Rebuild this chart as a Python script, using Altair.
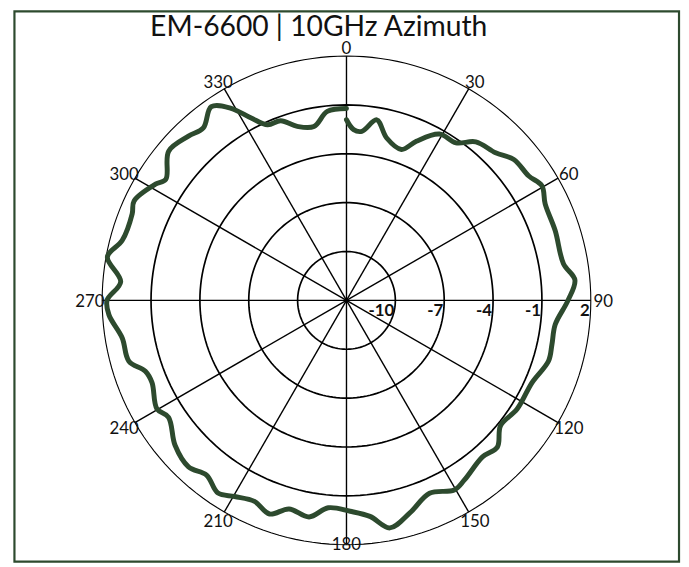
import altair as alt
import pandas as pd

# ---- data ----
angles = [0, 2.4, 5.2, 9.5, 13.9, 20.0, 23.7, 29.2, 34.8, 39.2, 45.3, 49.9, 55.7, 59.6,
          64.1, 71.5, 80.4, 84.9, 90, 96.6, 102.1, 106.7, 113.9, 122.5, 129.1, 134.2,
          139.0, 146.7, 150.4, 156.7, 163.4, 169.2, 173.8, 179.0, 185.0, 189.8, 195.4,
          199.8, 204.6, 209.7, 213.7, 218.7, 223.5, 229.8, 236.7, 240.2, 247.1, 250.6,
          254.4, 260.5, 266.5, 270, 274.7, 280.3, 285.0, 292.0, 295.1, 301.3, 303.8,
          310.0, 316.1, 320.3, 325.1, 329.0, 332.4, 335.8, 339.9, 344.2, 349.4, 354.2, 360]
values = [-1.91, -2.51, -2.58, -1.76, -2.73, -3.14, -2.33, -1.30, -1.22, -0.44, -0.12, 0.43,
          0.55, 0.91, 0.56, 0.51, 0.51, 1.08, 0.60, -0.10, -0.10, -0.05, -0.54, -0.58, -0.81,
          -0.08, -0.27, 0.19, 0.39, -0.11, 0.62, 1.22, 0.34, -0.05, -0.22, 0.49, 0.28, 0.94,
          0.57, 0.86, 1.22, 0.74, 1.09, 0.78, 0.07, 0.41, -0.04, 0.09, 0.87, 0.96, 1.61, 1.70,
          0.91, 1.92, 1.25, 1.19, 1.40, 0.73, 0.35, 1.25, 0.99, 0.76, 1.50, 0.76, -0.37,
          -1.18, -1.26, -1.90, -2.14, -1.34, -1.22]
ring_values = [-10, -7, -4, -1, 2]
spoke_angles = [0, 30, 60, 90, 120, 150, 180, 210, 240, 270, 300, 330]
title_text = "EM-6600 | 10GHz Azimuth"
R_MIN = -13
R_MAX = 2

# ---- layout ----
W, H = 679, 558
CX, CY = 341.5, 292.5          # polar centre inside the plot area (px)
K = 246.5 / (R_MAX - R_MIN)    # px per dB
GREEN = "#2D4A2E"
FONT = "Lato"

xs = alt.Scale(domain=[-CX / K, (W - CX) / K], nice=False, zero=False)
ys = alt.Scale(domain=[-(H - CY) / K, CY / K], nice=False, zero=False)


def X(field):
    return alt.X(field, type="quantitative", scale=xs, axis=None)


def Y(field):
    return alt.Y(field, type="quantitative", scale=ys, axis=None)


rad = "datum.angle * PI / 180"

# rings
ring_rows = [{"ring": rv, "angle": a} for rv in ring_values for a in range(0, 362, 2)]
rings = (
    alt.Chart(pd.DataFrame(ring_rows))
    .transform_calculate(r=f"datum.ring - ({R_MIN})")
    .transform_calculate(x=f"datum.r * sin({rad})", y=f"datum.r * cos({rad})")
    .mark_line(color="black")
    .encode(x=X("x"), y=Y("y"), detail="ring:N", order="angle:Q",
            strokeWidth=alt.condition(f"datum.ring == {R_MAX}", alt.value(1.1), alt.value(1.7)))
)

# spokes
spokes = (
    alt.Chart(pd.DataFrame({"angle": spoke_angles}))
    .transform_calculate(x0="0", y0="0",
                         x1=f"{R_MAX - R_MIN} * sin({rad})",
                         y1=f"{R_MAX - R_MIN} * cos({rad})")
    .mark_rule(color="black", strokeWidth=1.4)
    .encode(x=X("x0"), y=Y("y0"), x2="x1:Q", y2="y1:Q")
)

# angle labels (kept inside the plot area at the bottom, as in the original)
angle_labels = (
    alt.Chart(pd.DataFrame({"angle": spoke_angles}))
    .transform_calculate(lx=f"259 * sin({rad}) / {K}",
                         ly=f"max(256 * cos({rad}) - 2, -247) / {K}",
                         lab="toString(datum.angle)")
    .mark_text(font=FONT, fontSize=17, color="#111111", align="center", baseline="middle")
    .encode(x=X("lx"), y=Y("ly"), text="lab:N")
)

# radial labels
radial_labels = (
    alt.Chart(pd.DataFrame({"ring": ring_values}))
    .transform_calculate(lx=f"datum.ring - ({R_MIN})", ly="0", lab="toString(datum.ring)")
    .mark_text(font=FONT, fontSize=17, fontWeight="bold", color="#111111",
               align="right", baseline="top", dx=-1, dy=3)
    .encode(x=X("lx"), y=Y("ly"), text="lab:N")
)

# data curve
curve = (
    alt.Chart(pd.DataFrame({"angle": angles, "value": values}))
    .transform_calculate(r=f"datum.value - ({R_MIN})")
    .transform_calculate(x=f"datum.r * sin({rad})", y=f"datum.r * cos({rad})")
    .mark_line(color=GREEN, strokeWidth=5, interpolate="catmull-rom",
               strokeCap="round", strokeJoin="round")
    .encode(x=X("x"), y=Y("y"), order="angle:Q")
)

# title
title = (
    alt.Chart(pd.DataFrame({"t": [title_text]}))
    .mark_text(font=FONT, fontSize=28.5, color="#111111", align="center", baseline="alphabetic")
    .encode(x=alt.value(313.5), y=alt.value(26), text="t:N")
)

# chart frame
frame = (
    alt.Chart(pd.DataFrame({"f": [0]}))
    .mark_rect(filled=False, stroke=GREEN, strokeWidth=2.2)
    .encode(x=alt.value(6.5), x2=alt.value(677), y=alt.value(1), y2=alt.value(556))
)

chart = (
    alt.layer(rings, spokes, curve, angle_labels, radial_labels, title, frame)
    .properties(width=W, height=H, autosize=alt.AutoSizeParams(type="none"), padding=0,
                background="white")
    .configure_view(stroke=None)
)

chart.save("out.html", embed_options={"renderer": "svg", "actions": False})
